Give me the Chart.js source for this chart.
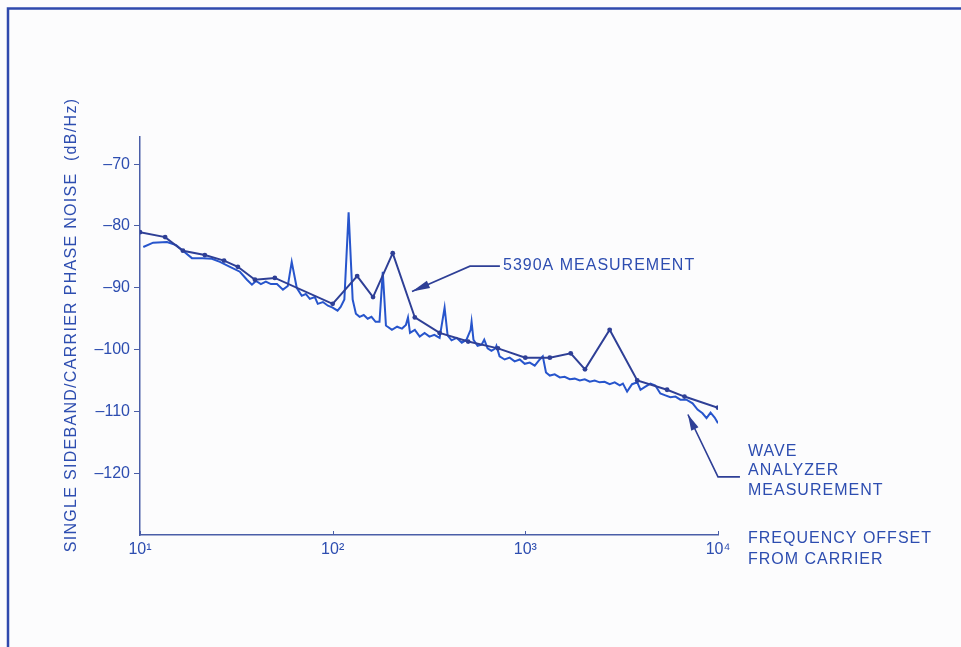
<!DOCTYPE html>
<html>
<head>
<meta charset="utf-8">
<script src="https://cdn.jsdelivr.net/npm/chart.js@4.4.0/dist/chart.umd.min.js"></script>
<style>
  html, body { margin: 0; padding: 0; background: #fcfcfd; }
  canvas { display: block; }
</style>
</head>
<body>
<canvas id="c" width="961" height="647"></canvas>
<script>
// ---- Data ----
const xTickValues = [10, 100, 1000, 10000];
const xTickLabels = ['10\u00B9', '10\u00B2', '10\u00B3', '10\u2074'];
const yTickValues = [-70, -80, -90, -100, -110, -120];
const yTickLabels = ['\u201370', '\u201380', '\u201390', '\u2013100', '\u2013110', '\u2013120'];

// 5390A measurement (points with dots)
const freq5390 = [10, 13.5, 16.7, 21.7, 27.3, 32.2, 39.5, 50.1, 100, 134, 162, 205, 267, 359, 505, 721, 1000, 1340, 1720, 2040, 2740, 3810, 5440, 6700, 10000];
const noise5390 = [-81.0, -81.8, -84.0, -84.7, -85.6, -86.6, -88.7, -88.4, -92.6, -88.1, -91.5, -84.4, -94.8, -97.3, -98.7, -99.8, -101.3, -101.3, -100.6, -103.2, -96.8, -105.0, -106.5, -107.6, -109.4];

// Wave analyzer measurement (continuous trace)
const freqWA = [10.4, 11.7, 13.8, 15.4, 16.7, 18.6, 21.2, 23.6, 26.0, 29.3, 33.0, 35.9, 38.1, 40.0, 42.4, 45.0, 47.8, 51.4, 55.2, 58.5, 61.3, 65.1, 69.1, 72.5, 76.1, 80.8, 83.7, 89.0, 94.5, 100, 106, 110, 115, 121, 127, 132, 138, 145, 152, 159, 167, 175, 182, 189, 203, 216, 229, 240, 246, 252, 267, 283, 300, 318, 337, 359, 381, 395, 414, 440, 468, 495, 520, 526, 538, 565, 593, 612, 637, 667, 700, 708, 735, 781, 829, 880, 935, 993, 1054, 1119, 1188, 1232, 1280, 1340, 1420, 1510, 1600, 1700, 1805, 1917, 2035, 2160, 2290, 2430, 2580, 2740, 2910, 3090, 3210, 3375, 3580, 3810, 3960, 4200, 4460, 4730, 5020, 5330, 5660, 6010, 6380, 6860, 7380, 7830, 8310, 8720, 9150, 9610, 10000];
const noiseWA = [-83.4, -82.7, -82.6, -83.1, -84.0, -85.2, -85.2, -85.3, -85.8, -86.6, -87.4, -88.7, -89.5, -88.9, -89.4, -89.0, -89.4, -89.4, -90.3, -89.7, -85.8, -90.0, -91.3, -91.0, -91.8, -91.5, -92.6, -92.3, -92.9, -93.2, -93.7, -93.1, -91.9, -77.8, -91.9, -94.2, -94.7, -94.4, -95.0, -94.7, -95.5, -95.5, -87.4, -96.1, -96.8, -96.3, -96.6, -96.0, -94.8, -97.3, -96.8, -97.9, -97.3, -97.9, -97.6, -98.1, -93.2, -97.7, -98.5, -98.1, -98.9, -98.4, -96.8, -95.5, -98.4, -99.4, -99.2, -98.4, -99.8, -100.2, -99.8, -99.4, -101.1, -101.6, -101.3, -101.9, -101.6, -102.3, -102.1, -102.6, -101.6, -101.1, -103.7, -104.2, -104.0, -104.5, -104.4, -104.8, -104.7, -105.0, -104.8, -105.2, -105.0, -105.3, -105.2, -105.6, -105.3, -105.8, -105.5, -106.8, -105.6, -105.3, -106.5, -106.0, -105.5, -105.8, -107.1, -107.4, -107.7, -107.6, -108.1, -108.1, -108.7, -109.7, -110.3, -111.1, -110.2, -111.0, -111.9];

// ---- Styling ----
const TEXT = '#2d4db0';
const AXIS = '#4a5ea8';
const C5390 = '#2e3f96';
const CWA = '#2755cc';
const FONT = '"Liberation Sans", Arial, Helvetica, sans-serif';

const pts = (xs, ys) => xs.map((x, i) => ({ x: x, y: ys[i] }));

function arrowHead(ctx, fx, fy, tx, ty, len, half) {
  const a = Math.atan2(ty - fy, tx - fx);
  ctx.beginPath();
  ctx.moveTo(tx, ty);
  ctx.lineTo(tx - len * Math.cos(a) + half * Math.sin(a), ty - len * Math.sin(a) - half * Math.cos(a));
  ctx.lineTo(tx - len * Math.cos(a) - half * Math.sin(a), ty - len * Math.sin(a) + half * Math.cos(a));
  ctx.closePath();
  ctx.fill();
}

const decor = {
  id: 'decor',
  beforeDraw(chart) {
    const ctx = chart.ctx;
    ctx.save();
    ctx.fillStyle = '#fcfcfd';
    ctx.fillRect(0, 0, chart.width, chart.height);
    ctx.restore();
  },
  afterDraw(chart) {
    const ctx = chart.ctx;
    const xs = chart.scales.x, ys = chart.scales.y;
    const X = v => xs.getPixelForValue(v), Y = v => ys.getPixelForValue(v);
    ctx.save();
    // frame
    ctx.strokeStyle = '#2f49ad';
    ctx.lineWidth = 2.5;
    ctx.beginPath();
    ctx.moveTo(8, 647); ctx.lineTo(8, 8.5); ctx.lineTo(961, 8.5);
    ctx.stroke();

    // small inward ticks on x axis
    ctx.strokeStyle = AXIS;
    ctx.lineWidth = 1;
    xTickValues.forEach(v => {
      const px = Math.round(X(v)) + 0.5;
      ctx.beginPath(); ctx.moveTo(px, ys.bottom); ctx.lineTo(px, ys.bottom - 4); ctx.stroke();
    });

    ctx.fillStyle = TEXT;
    ctx.font = '16px ' + FONT;
    ctx.textBaseline = 'middle';
    ctx.textAlign = 'left';

    // y title
    ctx.save();
    ctx.letterSpacing = '1.3px';
    ctx.translate(72, 325);
    ctx.rotate(-Math.PI / 2);
    ctx.textAlign = 'center';
    ctx.fillText('SINGLE SIDEBAND/CARRIER PHASE NOISE  (dB/Hz)', 0, 0);
    ctx.restore();

    // labels
    ctx.letterSpacing = '1px';
    ctx.fillText('5390A MEASUREMENT', 503, 266);
    ctx.fillText('WAVE', 748, 452);
    ctx.fillText('ANALYZER', 748, 471);
    ctx.fillText('MEASUREMENT', 748, 491);
    ctx.fillText('FREQUENCY OFFSET', 748, 539);
    ctx.fillText('FROM CARRIER', 748, 560);

    // arrows
    ctx.strokeStyle = C5390;
    ctx.fillStyle = C5390;
    ctx.lineWidth = 1.6;
    let a0 = [X(738), Y(-86.5)], a1 = [X(516), Y(-86.5)], a2 = [X(258), Y(-90.6)];
    ctx.beginPath(); ctx.moveTo(a0[0], a0[1]); ctx.lineTo(a1[0], a1[1]); ctx.lineTo(a2[0], a2[1]); ctx.stroke();
    arrowHead(ctx, a1[0], a1[1], a2[0], a2[1], 18, 4);

    let b0 = [X(13000), Y(-120.6)], b1 = [X(10000), Y(-120.6)], b2 = [X(6980), Y(-110.5)];
    ctx.beginPath(); ctx.moveTo(b0[0], b0[1]); ctx.lineTo(b1[0], b1[1]); ctx.lineTo(b2[0], b2[1]); ctx.stroke();
    arrowHead(ctx, b1[0], b1[1], b2[0], b2[1], 16, 4);
    ctx.restore();
  }
};

new Chart(document.getElementById('c'), {
  type: 'scatter',
  data: {
    datasets: [
      {
        label: '5390A MEASUREMENT',
        data: pts(freq5390, noise5390),
        showLine: true,
        borderColor: C5390,
        backgroundColor: C5390,
        borderWidth: 2,
        pointRadius: 2.4,
        pointBorderWidth: 0,
        tension: 0
      },
      {
        label: 'WAVE ANALYZER MEASUREMENT',
        data: pts(freqWA, noiseWA),
        showLine: true,
        borderColor: CWA,
        backgroundColor: CWA,
        borderWidth: 2,
        pointRadius: 0,
        tension: 0
      }
    ]
  },
  options: {
    responsive: false,
    devicePixelRatio: 1,
    animation: false,
    layout: { padding: { left: 0, top: 137, right: 243, bottom: 0 } },
    plugins: { legend: { display: false }, tooltip: { enabled: false } },
    scales: {
      x: {
        type: 'logarithmic',
        min: 10,
        max: 10000,
        afterBuildTicks: s => { s.ticks = xTickValues.map(v => ({ value: v })); },
        afterFit: s => { s.height = 112; },
        ticks: {
          color: TEXT,
          font: { family: FONT, size: 16 },
          padding: 5,
          maxRotation: 0,
          autoSkip: false,
          callback: v => { const i = xTickValues.indexOf(v); return i >= 0 ? xTickLabels[i] : ''; }
        },
        grid: { display: true, drawOnChartArea: false, drawTicks: false },
        border: { display: true, color: AXIS, width: 1.5 }
      },
      y: {
        type: 'linear',
        min: -130,
        max: -65.6,
        afterBuildTicks: s => { s.ticks = yTickValues.map(v => ({ value: v })); },
        afterFit: s => { s.width = 140; },
        ticks: {
          color: TEXT,
          font: { family: FONT, size: 16 },
          padding: 4,
          autoSkip: false,
          callback: v => { const i = yTickValues.indexOf(v); return i >= 0 ? yTickLabels[i] : ''; }
        },
        grid: { display: true, drawOnChartArea: false, drawTicks: true, tickLength: 6, color: AXIS },
        border: { display: true, color: AXIS, width: 1.5 }
      }
    }
  },
  plugins: [decor]
});
</script>
</body>
</html>
